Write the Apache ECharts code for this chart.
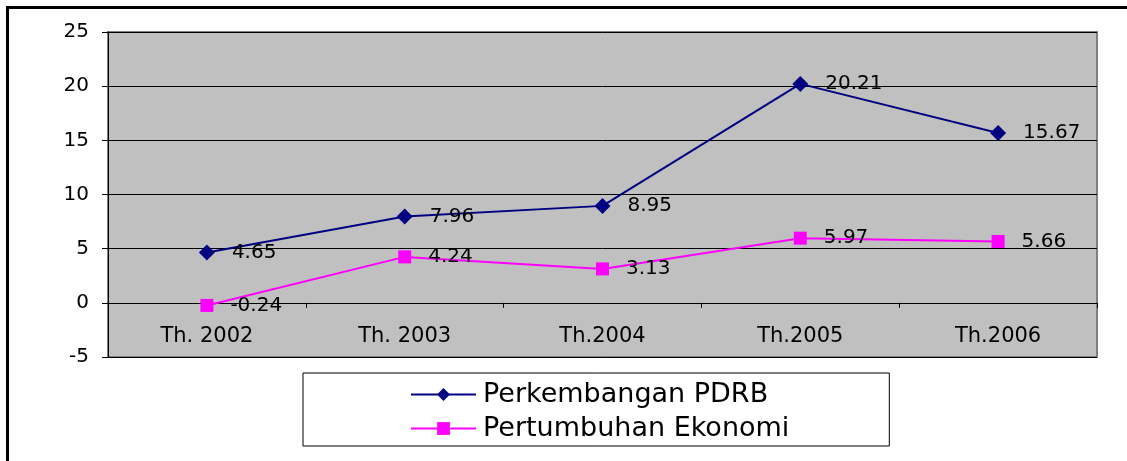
<!DOCTYPE html>
<html>
<head>
    <meta charset="utf-8">
    <title>PDRB</title>
    <script src="https://cdn.jsdelivr.net/npm/echarts@6/dist/echarts.min.js"></script>
    <style>
        html, body { margin: 0; padding: 0; background: #fff; }
        #main { width: 1127px; height: 461px; }
    </style>
</head>
<body>
<div id="main"></div>
<script type="text/javascript">
    // data
    var tahun = ['Th. 2002', 'Th. 2003', 'Th.2004', 'Th.2005', 'Th.2006'];
    var pdrb = [4.65, 7.96, 8.95, 20.21, 15.67];
    var ekonomi = [-0.24, 4.24, 3.13, 5.97, 5.66];
    var namaSeri = ['Perkembangan PDRB', 'Pertumbuhan Ekonomi'];

    // teks asli agak lebar, jadi pakai DejaVu Sans
    var font = '"DejaVu Sans", Arial, sans-serif';
    var myChart = echarts.init(document.getElementById('main'));

    var labelStyle = {
        show: true,
        position: 'right',
        distance: 17,
        fontSize: 20,
        fontFamily: font,
        color: '#000'
    };

    var option = {
        backgroundColor: '#fff',
        animation: false,
        graphic: [
            { type: 'line', shape: { x1: 7.5, y1: 6, x2: 7.5, y2: 461 }, style: { stroke: '#000', lineWidth: 3 } },
            { type: 'line', shape: { x1: 6, y1: 7.5, x2: 1127, y2: 7.5 }, style: { stroke: '#000', lineWidth: 3 } }
        ],
        grid: {
            left: 108, top: 32, right: 30, bottom: 104,
            show: true,
            backgroundColor: '#C0C0C0',
            borderColor: '#808080',
            borderWidth: 2
        },
        legend: {
            data: namaSeri,
            orient: 'vertical',
            left: 303,
            top: 373,
            padding: [8, 100, 4, 107],
            itemGap: 7,
            itemWidth: 65,
            itemHeight: 16,
            borderColor: '#000',
            borderWidth: 1,
            backgroundColor: '#fff',
            textStyle: { fontSize: 27, fontFamily: font, color: '#000', padding: [0, 0, 0, 2] }
        },
        xAxis: {
            type: 'category',
            data: tahun,
            boundaryGap: true,
            axisLine: { onZero: true, lineStyle: { color: '#000', width: 1 } },
            axisTick: { show: true, length: 5, inside: false, lineStyle: { color: '#000' } },
            axisLabel: { margin: -31, fontSize: 21, fontFamily: font, color: '#000' },
            splitLine: { show: false }
        },
        yAxis: {
            type: 'value',
            min: -5,
            max: 25,
            interval: 5,
            axisLine: { show: true, lineStyle: { color: '#000', width: 1 } },
            axisTick: { show: true, length: 6, lineStyle: { color: '#000' } },
            axisLabel: { margin: 19, fontSize: 20, fontFamily: font, color: '#000' },
            splitLine: { show: true, lineStyle: { color: '#000', width: 1 } }
        },
        series: [
            {
                name: namaSeri[0],
                type: 'line',
                data: pdrb,
                symbol: 'diamond',
                symbolSize: 16,
                itemStyle: { color: '#000080' },
                lineStyle: { color: '#000080', width: 2 },
                label: labelStyle
            },
            {
                name: namaSeri[1],
                type: 'line',
                data: ekonomi,
                symbol: 'rect',
                symbolSize: 13,
                itemStyle: { color: '#FF00FF' },
                lineStyle: { color: '#FF00FF', width: 2 },
                label: labelStyle
            }
        ]
    };

    myChart.setOption(option);
</script>
</body>
</html>
